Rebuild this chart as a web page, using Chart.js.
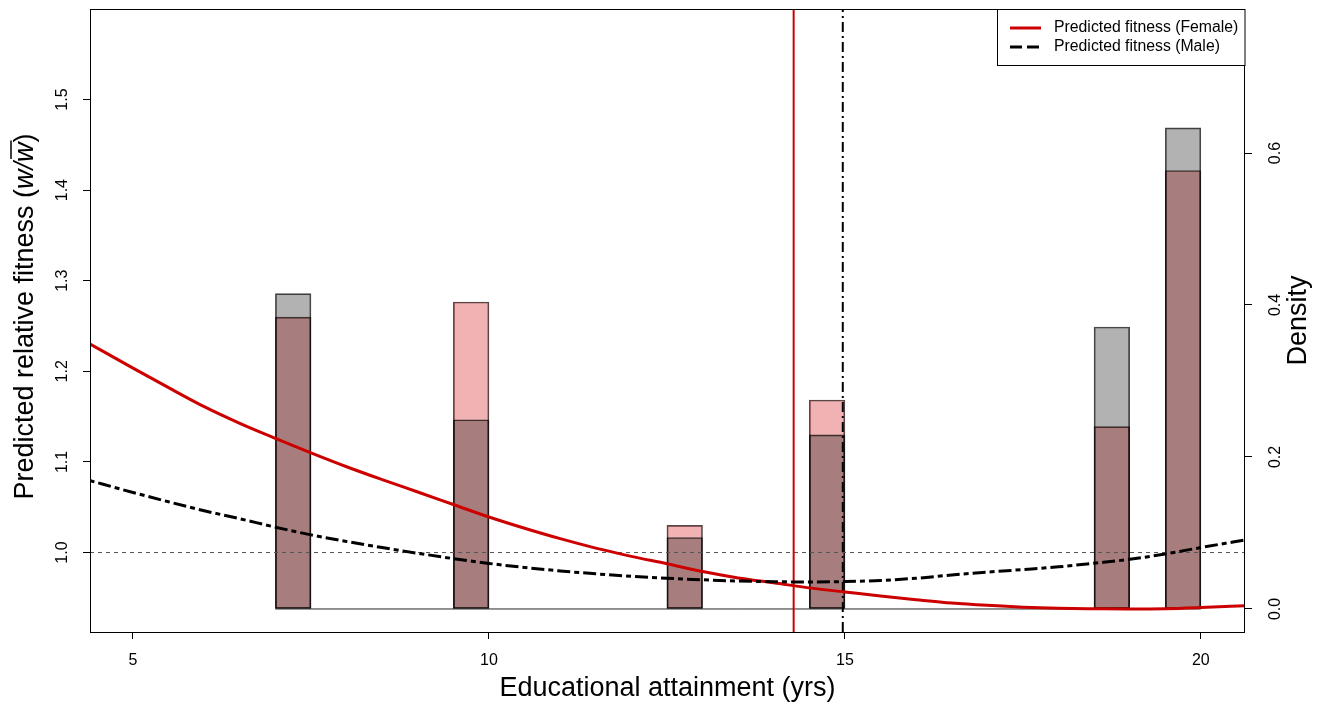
<!DOCTYPE html>
<html>
<head>
<meta charset="utf-8">
<script src="https://cdn.jsdelivr.net/npm/chart.js@4.4.1/dist/chart.umd.min.js"></script>
<style>
  html, body { margin: 0; padding: 0; background: #ffffff; }
  canvas { display: block; }
</style>
</head>
<body>
<canvas id="chart" width="1325" height="704"></canvas>
<script>
const FONT = '"Liberation Sans", Arial, Helvetica, sans-serif';

// Histogram of educational attainment (bin width 0.5 years), density scale
const binWidth = 0.5;
const binMids = [7.25, 7.75, 8.25, 8.75, 9.25, 9.75, 10.25, 10.75, 11.25, 11.75, 12.25, 12.75, 13.25,
                 13.75, 14.25, 14.75, 15.25, 15.75, 16.25, 16.75, 17.25, 17.75, 18.25, 18.75, 19.25, 19.75];
const densityFemale = [0.384, 0, 0, 0, 0, 0.404, 0, 0, 0, 0, 0, 0.110, 0,
                       0, 0, 0.275, 0, 0, 0, 0, 0, 0, 0, 0.240, 0, 0.577];
const densityMale   = [0.415, 0, 0, 0, 0, 0.249, 0, 0, 0, 0, 0, 0.094, 0,
                       0, 0, 0.229, 0, 0, 0, 0, 0, 0, 0, 0.371, 0, 0.633];

// Predicted relative fitness along educational attainment
const fitX = [4.39, 5, 5.5, 6, 6.5, 7, 7.5, 8, 8.5, 9, 9.5, 10, 10.5, 11, 11.5, 12, 12.5, 13, 13.5,
              14, 14.5, 15, 15.5, 16, 16.5, 17, 17.5, 18, 18.5, 19, 19.5, 20, 20.63];
const fitFemale = [1.2305, 1.2035, 1.182, 1.161, 1.1426, 1.126, 1.110, 1.0947, 1.0805, 1.0668, 1.053,
                   1.0392, 1.0268, 1.0153, 1.0049, 0.9958, 0.9876, 0.979, 0.9719, 0.9666, 0.961,
                   0.9565, 0.952, 0.948, 0.9443, 0.9417, 0.9397, 0.9385, 0.938, 0.9377, 0.938, 0.9393, 0.9414];
const fitMale = [1.0795, 1.0663, 1.056, 1.0461, 1.0373, 1.028, 1.0195, 1.0122, 1.0055, 0.9992, 0.9933,
                 0.988, 0.9835, 0.9797, 0.9765, 0.9738, 0.9716, 0.9699, 0.9686, 0.9678, 0.9675,
                 0.9679, 0.9692, 0.9716, 0.9752, 0.9784, 0.9812, 0.9842, 0.9882, 0.9925, 0.9985, 1.0055, 1.014];

// Mean educational attainment
const meanFemale = 14.28;
const meanMale = 14.97;

// Axes
const xTicks = [5, 10, 15, 20];
const fitTicks = [1.0, 1.1, 1.2, 1.3, 1.4, 1.5];
const densTicks = [0.0, 0.2, 0.4, 0.6];
const xRange = [4.396, 20.62];
const fitRange = [0.9123, 1.5999];
const densRange = [-0.0303, 0.7895];

const RED = 'rgb(205,0,0)';
const curveDash = [5, 4, 13, 4];

const pts = (xs, ys) => xs.map((x, i) => ({ x: x, y: ys[i] }));

const datasets = [
  {
    type: 'bar', label: 'Female', order: 6, xAxisID: 'x', yAxisID: 'yD',
    data: pts(binMids, densityFemale),
    backgroundColor: 'rgba(205,0,0,0.3)', borderColor: 'rgba(0,0,0,0.7)',
    borderWidth: 1, borderSkipped: false, grouped: false,
    barPercentage: 1, categoryPercentage: 1
  },
  {
    type: 'bar', label: 'Male', order: 5, xAxisID: 'x', yAxisID: 'yD',
    data: pts(binMids, densityMale),
    backgroundColor: 'rgba(0,0,0,0.3)', borderColor: 'rgba(0,0,0,0.7)',
    borderWidth: 1, borderSkipped: false, grouped: false,
    barPercentage: 1, categoryPercentage: 1
  },
  {
    type: 'line', label: 'base', order: 4, xAxisID: 'x', yAxisID: 'yD',
    data: [{ x: binMids[0] - binWidth / 2, y: 0 }, { x: binMids[binMids.length - 1] + binWidth / 2, y: 0 }],
    borderColor: 'rgba(0,0,0,0.85)', borderWidth: 1, pointRadius: 0
  },
  {
    type: 'line', label: 'ref', order: 3, xAxisID: 'x', yAxisID: 'yF',
    data: [{ x: xRange[0], y: 1 }, { x: xRange[1], y: 1 }],
    borderColor: '#555555', borderWidth: 1, borderDash: [4, 4], pointRadius: 0
  },
  {
    type: 'line', label: 'meanF', order: 2, xAxisID: 'x', yAxisID: 'yF',
    data: [{ x: meanFemale, y: fitRange[0] }, { x: meanFemale, y: fitRange[1] }],
    borderColor: RED, borderWidth: 2, pointRadius: 0
  },
  {
    type: 'line', label: 'meanM', order: 2, xAxisID: 'x', yAxisID: 'yF',
    data: [{ x: meanMale, y: fitRange[0] }, { x: meanMale, y: fitRange[1] }],
    borderColor: '#000000', borderWidth: 2, borderDash: [10, 4, 2, 4], pointRadius: 0
  },
  {
    type: 'line', label: 'Predicted fitness (Female)', order: 1, xAxisID: 'x', yAxisID: 'yF',
    data: pts(fitX, fitFemale),
    borderColor: RED, borderWidth: 3, pointRadius: 0, cubicInterpolationMode: 'monotone'
  },
  {
    type: 'line', label: 'Predicted fitness (Male)', order: 0, xAxisID: 'x', yAxisID: 'yF',
    data: pts(fitX, fitMale),
    borderColor: '#000000', borderWidth: 3, borderDash: curveDash, pointRadius: 0,
    cubicInterpolationMode: 'monotone'
  }
];

const tickGrid = { drawOnChartArea: false, drawTicks: true, tickLength: 7, color: '#000000', lineWidth: 1 };

function fixedTicks(values) {
  return function (scale) { scale.ticks = values.map(v => ({ value: v })); };
}

// Frame, rotated axis labels, titles and legend
const decorations = {
  id: 'decorations',
  afterDraw(chart) {
    const ctx = chart.ctx;
    const a = chart.chartArea;
    const sx = chart.scales.x, sf = chart.scales.yF, sd = chart.scales.yD;
    const cy = (a.top + a.bottom) / 2;
    ctx.save();
    ctx.fillStyle = '#000';
    ctx.strokeStyle = '#000';

    // plot frame
    ctx.lineWidth = 1;
    ctx.strokeRect(Math.round(a.left) + 0.5, Math.round(a.top) + 0.5,
                   Math.round(a.right - a.left) - 1, Math.round(a.bottom - a.top));

    // x tick labels
    ctx.font = '16px ' + FONT;
    ctx.textAlign = 'center';
    ctx.textBaseline = 'middle';
    xTicks.forEach(v => ctx.fillText(String(v), sx.getPixelForValue(v), 661));

    // y tick labels, rotated
    const rotText = (txt, x, y, font) => {
      ctx.save();
      ctx.translate(x, y);
      ctx.rotate(-Math.PI / 2);
      ctx.font = font;
      ctx.textAlign = 'center';
      ctx.textBaseline = 'alphabetic';
      ctx.fillText(txt, 0, 0);
      ctx.restore();
    };
    fitTicks.forEach(v => rotText(v.toFixed(1), 67, sf.getPixelForValue(v), '16px ' + FONT));
    densTicks.forEach(v => rotText(v.toFixed(1), 1280, sd.getPixelForValue(v), '16px ' + FONT));

    // axis titles
    ctx.font = '27px ' + FONT;
    ctx.textAlign = 'center';
    ctx.textBaseline = 'alphabetic';
    ctx.fillText('Educational attainment (yrs)', (a.left + a.right) / 2, 696);
    rotText('Density', 1306, cy, '27px ' + FONT);

    // left title with italic w / w-bar
    ctx.save();
    ctx.translate(33, cy - 4);
    ctx.rotate(-Math.PI / 2);
    const fn = '27px ' + FONT, fi = 'italic 27px ' + FONT;
    const parts = [['Predicted relative fitness (', fn], ['w/', fi], ['w', fi, true], [')', fn]];
    let total = 0;
    parts.forEach(p => { ctx.font = p[1]; p.w = ctx.measureText(p[0]).width; total += p.w; });
    let px = -total / 2;
    ctx.textAlign = 'left';
    ctx.textBaseline = 'alphabetic';
    parts.forEach(p => {
      ctx.font = p[1];
      ctx.fillText(p[0], px, 0);
      if (p[2]) {
        ctx.lineWidth = 1.5;
        ctx.beginPath();
        ctx.moveTo(px + 3, -22);
        ctx.lineTo(px + p.w + 2, -22);
        ctx.stroke();
      }
      px += p.w;
    });
    ctx.restore();

    // legend
    const lx = 997.5, ly = a.top + 0.5, lw = a.right - 997.5, lh = 56;
    ctx.fillStyle = '#ffffff';
    ctx.fillRect(lx, ly, lw, lh);
    ctx.lineWidth = 1;
    ctx.strokeStyle = '#000';
    ctx.strokeRect(lx, ly, lw, lh);
    const entries = [datasets[6], datasets[7]];
    const rows = [28, 47];
    entries.forEach((ds, i) => {
      ctx.save();
      ctx.strokeStyle = ds.borderColor;
      ctx.lineWidth = 3;
      ctx.setLineDash(ds.borderDash ? [12, 5] : []);
      ctx.beginPath();
      ctx.moveTo(1010, rows[i]);
      ctx.lineTo(1041, rows[i]);
      ctx.stroke();
      ctx.restore();
      ctx.fillStyle = '#000';
      ctx.font = '15.8px ' + FONT;
      ctx.textAlign = 'left';
      ctx.textBaseline = 'middle';
      ctx.fillText(ds.label, 1054, rows[i]);
    });
    ctx.restore();
  }
};

new Chart(document.getElementById('chart'), {
  data: { datasets: datasets },
  options: {
    responsive: false,
    animation: false,
    events: [],
    devicePixelRatio: 1,
    layout: { padding: { top: 9, left: 0, right: 0, bottom: 0 } },
    plugins: { legend: { display: false }, tooltip: { enabled: false } },
    scales: {
      x: {
        type: 'linear', position: 'bottom', min: xRange[0], max: xRange[1],
        offset: false, grid: Object.assign({ offset: false }, tickGrid), border: { display: false },
        ticks: { display: false }, afterBuildTicks: fixedTicks(xTicks),
        afterFit(s) { s.height = 72; }
      },
      yF: {
        type: 'linear', position: 'left', min: fitRange[0], max: fitRange[1],
        grid: tickGrid, border: { display: false }, ticks: { display: false },
        afterBuildTicks: fixedTicks(fitTicks),
        afterFit(s) { s.width = 90; }
      },
      yD: {
        type: 'linear', position: 'right', min: densRange[0], max: densRange[1],
        grid: tickGrid, border: { display: false }, ticks: { display: false },
        afterBuildTicks: fixedTicks(densTicks),
        afterFit(s) { s.width = 80; }
      }
    }
  },
  plugins: [decorations]
});
</script>
</body>
</html>
